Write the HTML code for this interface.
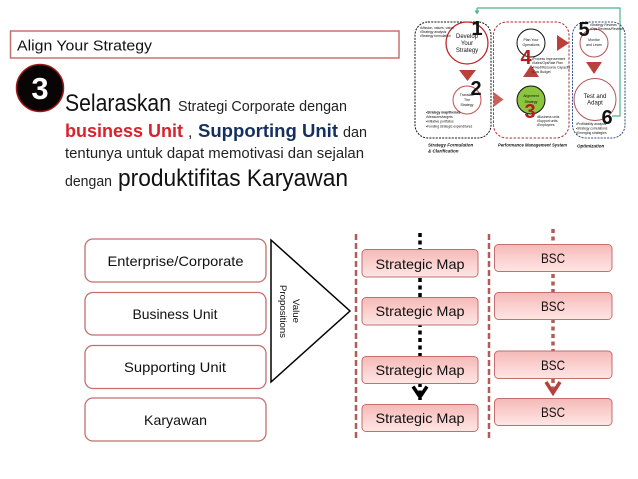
<!DOCTYPE html>
<html><head><meta charset="utf-8"><style>
html,body{margin:0;padding:0;background:#fff}
svg{display:block}
text{font-family:"Liberation Sans",sans-serif;fill:#111}
</style></head><body>
<svg width="638" height="479" viewBox="0 0 638 479" xmlns="http://www.w3.org/2000/svg">
<defs>
<linearGradient id="g" x1="0" y1="0" x2="0" y2="1"><stop offset="0" stop-color="#f4b9b7"/><stop offset=".5" stop-color="#fbd0ce"/><stop offset="1" stop-color="#fde6e5"/></linearGradient>
</defs>
<rect x="10.5" y="31" width="388.500" height="27" fill="#fff" stroke="#c8706e" stroke-width="1.500"/>
<text x="17" y="50.500" font-size="15" textLength="135" lengthAdjust="spacingAndGlyphs">Align Your Strategy</text>
<circle cx="40" cy="88" r="23.500" fill="#0a0505" stroke="#a01818" stroke-width="1.500"/>
<text x="40" y="99" font-size="31" font-weight="bold" text-anchor="middle" style="fill:#fff">3</text>
<text x="65" y="111" font-size="24" textLength="106" lengthAdjust="spacingAndGlyphs">Selaraskan</text>
<text x="178" y="111" font-size="15" textLength="169" lengthAdjust="spacingAndGlyphs" style="fill:#222">Strategi Corporate dengan</text>
<text x="65" y="137" font-size="18" font-weight="bold" textLength="118" lengthAdjust="spacingAndGlyphs" style="fill:#d8232a">business Unit</text>
<text x="188" y="137" font-size="16" style="fill:#222">,</text>
<text x="198" y="137" font-size="18" font-weight="bold" textLength="140" lengthAdjust="spacingAndGlyphs" style="fill:#14305f">Supporting Unit</text>
<text x="343" y="137" font-size="15" textLength="24" lengthAdjust="spacingAndGlyphs" style="fill:#222">dan</text>
<text x="65" y="158" font-size="15" textLength="299" lengthAdjust="spacingAndGlyphs" style="fill:#222">tentunya untuk dapat memotivasi dan  sejalan</text>
<text x="65" y="186" font-size="15" textLength="47" lengthAdjust="spacingAndGlyphs" style="fill:#222">dengan</text>
<text x="118" y="186" font-size="24" textLength="230" lengthAdjust="spacingAndGlyphs">produktifitas Karyawan</text>

<!-- top-right diagram -->
<path d="M477 8H620V116H612" fill="none" stroke="#4fb28a" stroke-width="1.200"/>
<path d="M477 8V12" stroke="#4fb28a" stroke-width="1.200"/><path d="M474.500 10.500h5l-2.500 4z" fill="#4fb28a"/>
<rect x="415" y="22" width="76" height="116" rx="13" fill="none" stroke="#111" stroke-width="1" stroke-dasharray="2 1.200"/>
<rect x="493.500" y="22" width="75.500" height="116" rx="13" fill="none" stroke="#b03030" stroke-width="1" stroke-dasharray="2.500 1.500"/>
<rect x="572.500" y="22" width="52.500" height="116" rx="13" fill="none" stroke="#2e4a80" stroke-width="1" stroke-dasharray="2 1.200"/>
<circle cx="467" cy="43" r="21" fill="#fff" stroke="#c0282c" stroke-width="1.300"/>
<circle cx="467" cy="100" r="14" fill="#fff" stroke="#c05050" stroke-width="1"/>
<circle cx="531" cy="43" r="14" fill="#fff" stroke="#111" stroke-width="1"/>
<circle cx="531" cy="100" r="14" fill="#8cc63f" stroke="#111" stroke-width="1"/>
<circle cx="594" cy="43" r="14" fill="#fff" stroke="#b05555" stroke-width="1"/>
<circle cx="595" cy="99.500" r="21" fill="#fff" stroke="#b05555" stroke-width="1"/>
<path d="M459 70h17l-8.500 11z" fill="#bb3f3a"/>
<path d="M557 35l12 8-12 8z" fill="#bb3f3a"/>
<path d="M523 77l8-12 8 12z" fill="#bb3f3a"/>
<path d="M493.500 92l10 7.500-10 7.500z" fill="#c9605c"/>
<path d="M586 62h16l-8 12z" fill="#bb3f3a"/>

<g text-anchor="middle" font-size="6" style="fill:#222">
<text x="467" y="38">Develop</text><text x="467" y="45">Your</text><text x="467" y="52">Strategy</text>
<text x="595" y="98">Test and</text><text x="595" y="104.500">Adapt</text>
</g>
<g text-anchor="middle" font-size="3.500" style="fill:#444">
<text x="467" y="96">Translate</text><text x="467" y="101">The</text><text x="467" y="106">Strategy</text>
<text x="531" y="41">Plan Your</text><text x="531" y="46">Operations</text>
<text x="531" y="97">Alignment</text><text x="531" y="103">Strategy</text>
<text x="594" y="41">Monitor</text><text x="594" y="46">and Learn</text>
</g>
<g font-size="3.300" style="fill:#333">
<text x="420" y="29">•Mission, values, vision</text><text x="420" y="33">•Strategy analysis</text><text x="420" y="37">•Strategy formulation</text>
<text x="426" y="113.500" font-weight="bold">•Strategy map/themes</text><text x="426" y="118">•Measures/targets</text><text x="426" y="122.500">•Initiative portfolios</text><text x="426" y="127.500">•Funding strategic expenditures</text>
<text x="532" y="60">•Process Improvement</text><text x="532" y="64">•Sales/OpsRate Plan</text><text x="532" y="68.500">•Fixed/Resource Capacity</text><text x="532" y="73">•Ops Budget</text>
<text x="537" y="118">•Business units</text><text x="537" y="122">•Support units</text><text x="537" y="126">•Employees</text>
<text x="590" y="26">•Strategy Reviews</text><text x="590" y="30">•Ops Reviews/Reviews</text>
<text x="576" y="125">•Profitability analysis</text><text x="576" y="129.500">•Strategy correlations</text><text x="576" y="134">•Emerging strategies</text>
</g>
<g font-size="4.500" font-style="italic" font-weight="bold" style="fill:#333">
<text x="428" y="146.500">Strategy  Formulation</text><text x="428" y="152.500">&amp; Clarification</text>
<text x="498" y="146.500" textLength="69" lengthAdjust="spacingAndGlyphs">Performance Management  System</text>
<text x="577" y="147.500">Optimization</text>
</g>
<g font-size="20" font-weight="bold" text-anchor="middle">
<text x="477" y="35">1</text><text x="476" y="95">2</text><text x="530" y="118" style="fill:#b51c1c">3</text><text x="526" y="64" style="fill:#b51c1c">4</text><text x="584" y="36">5</text><text x="607" y="124">6</text>
</g>

<!-- left boxes -->
<g fill="#fff" stroke="#c26f6d" stroke-width="1.300">
<rect x="85" y="239" width="181" height="43" rx="8"/>
<rect x="85" y="292.500" width="181" height="42.500" rx="8"/>
<rect x="85" y="345.500" width="181" height="43" rx="8"/>
<rect x="85" y="398" width="181" height="43" rx="8"/>
</g>
<g font-size="14" text-anchor="middle" style="fill:#222">
<text x="175.500" y="266" textLength="136" lengthAdjust="spacingAndGlyphs">Enterprise/Corporate</text>
<text x="175" y="319" textLength="85" lengthAdjust="spacingAndGlyphs">Business Unit</text>
<text x="175" y="372" textLength="102" lengthAdjust="spacingAndGlyphs">Supporting Unit</text>
<text x="175.500" y="425" textLength="63" lengthAdjust="spacingAndGlyphs">Karyawan</text>
</g>
<path d="M271 240L350 311L271 382Z" fill="#fff" stroke="#000" stroke-width="1.500"/>
<g font-size="9.500" text-anchor="middle" style="fill:#333">
<text transform="translate(293,311) rotate(90)" textLength="24" lengthAdjust="spacingAndGlyphs">Value</text>
<text transform="translate(280,311.500) rotate(90)" textLength="53" lengthAdjust="spacingAndGlyphs">Propositions</text>
</g>

<!-- dashed separators -->
<path d="M356 234V441" stroke="#b45a58" stroke-width="2.500" stroke-dasharray="6 3" fill="none"/>
<path d="M489 234V441" stroke="#b45a58" stroke-width="2.500" stroke-dasharray="6 3" fill="none"/>
<!-- dotted flows -->
<path d="M420 233V400" stroke="#000" stroke-width="3.500" stroke-dasharray="4 3.500" fill="none"/>
<path d="M553 229V392" stroke="#b45a58" stroke-width="3.500" stroke-dasharray="4 3.500" fill="none"/>
<path d="M413 386.500L420 397L427 386.500" fill="none" stroke="#000" stroke-width="3.500"/>
<path d="M546 382L553 393L560 382" fill="none" stroke="#b5403c" stroke-width="3.500"/>

<!-- strategic map boxes -->
<g fill="url(#g)" stroke="#c26f6d" stroke-width="1">
<rect x="362" y="249.500" width="116" height="27.500" rx="4"/>
<rect x="362" y="297.500" width="116" height="27.500" rx="4"/>
<rect x="362" y="356.500" width="116" height="27" rx="4"/>
<rect x="362" y="404.500" width="116" height="27" rx="4"/>
<rect x="494.500" y="244.500" width="117.500" height="27" rx="4"/>
<rect x="494.500" y="292.500" width="117.500" height="27" rx="4"/>
<rect x="494.500" y="351" width="117.500" height="27.500" rx="4"/>
<rect x="494.500" y="398.500" width="117.500" height="27" rx="4"/>
</g>
<g font-size="14" text-anchor="middle" style="fill:#222">
<text x="420" y="269" textLength="89" lengthAdjust="spacingAndGlyphs">Strategic Map</text>
<text x="420" y="316" textLength="89" lengthAdjust="spacingAndGlyphs">Strategic Map</text>
<text x="420" y="375" textLength="89" lengthAdjust="spacingAndGlyphs">Strategic Map</text>
<text x="420" y="423" textLength="89" lengthAdjust="spacingAndGlyphs">Strategic Map</text>
<text x="553" y="263" textLength="24" lengthAdjust="spacingAndGlyphs">BSC</text>
<text x="553" y="311" textLength="24" lengthAdjust="spacingAndGlyphs">BSC</text>
<text x="553" y="370" textLength="24" lengthAdjust="spacingAndGlyphs">BSC</text>
<text x="553" y="417" textLength="24" lengthAdjust="spacingAndGlyphs">BSC</text>
</g>
</svg>
</body></html>
